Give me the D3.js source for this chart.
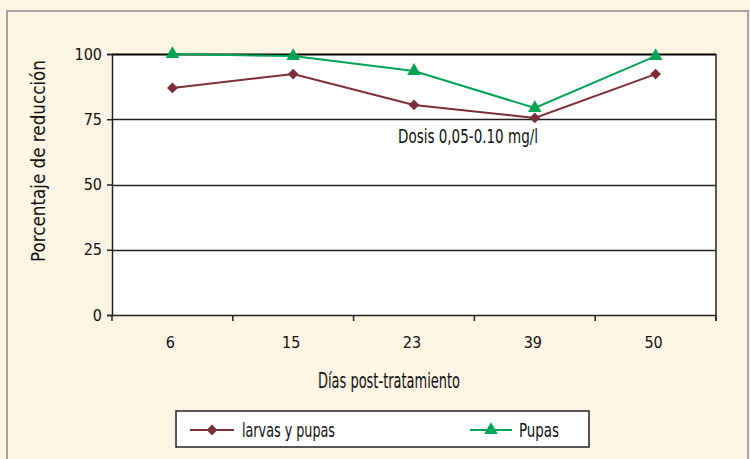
<!DOCTYPE html>
<html>
<head>
<meta charset="utf-8">
<script src="https://cdn.jsdelivr.net/npm/d3@7"></script>
<style>
  html, body { margin: 0; padding: 0; background: #fdf4e3; }
  svg { display: block; }
  text { font-family: "DejaVu Sans Condensed", "Liberation Sans Narrow", sans-serif; fill: #111; }
</style>
</head>
<body>
<svg id="chart" width="750" height="459"></svg>
<script>
// Days after treatment
const days = ["6", "15", "23", "39", "50"];
// Percentage reduction, larvae + pupae
const larvasYPupas = [87, 92.3, 80.5, 75.5, 92.3];
// Percentage reduction, pupae only
const pupas = [100, 99.2, 93.5, 79.3, 99.2];
const yTicks = [0, 25, 50, 75, 100];

const series = [
  { name: "larvas y pupas", values: larvasYPupas, color: "#7d2f37", symbol: d3.symbolSquare, size: 58, rotate: 45, textLen: 93 },
  { name: "Pupas", values: pupas, color: "#00a553", symbol: d3.symbolTriangle, size: 80, rotate: 0, textLen: 40 }
];

const svg = d3.select("#chart");
const W = 750, H = 459;
const plot = { left: 112, right: 716, top: 54, bottom: 315 };

// outer frame
svg.append("rect")
  .attr("x", 7).attr("y", 11).attr("width", W - 9).attr("height", H + 10)
  .attr("fill", "#fdf4e3").attr("stroke", "#a3a3a3").attr("stroke-width", 2);

const x = d3.scaleBand().domain(days).range([plot.left, plot.right]);
const y = d3.scaleLinear().domain([0, 100]).range([plot.bottom, plot.top]);

// plot background
svg.append("rect")
  .attr("x", plot.left).attr("y", plot.top)
  .attr("width", plot.right - plot.left).attr("height", plot.bottom - plot.top)
  .attr("fill", "#ffffff");

// horizontal gridlines
svg.append("g").selectAll("line").data(yTicks.filter(d => d > 0)).join("line")
  .attr("x1", plot.left).attr("x2", plot.right)
  .attr("y1", d => Math.round(y(d)) + 0.5).attr("y2", d => Math.round(y(d)) + 0.5)
  .attr("stroke", d => d === 100 ? "#000" : "#222").attr("stroke-width", d => d === 100 ? 2 : 1.5);

// right border
svg.append("line")
  .attr("x1", plot.right).attr("x2", plot.right)
  .attr("y1", plot.top).attr("y2", plot.bottom + 6)
  .attr("stroke", "#222").attr("stroke-width", 1.5);

// y axis
const yAxis = svg.append("g")
  .attr("transform", `translate(${plot.left},0)`)
  .call(d3.axisLeft(y).tickValues(yTicks).tickSize(5).tickPadding(5));
yAxis.select(".domain").attr("stroke", "#222").attr("stroke-width", 1.5);
yAxis.selectAll(".tick line").attr("stroke", "#222").attr("stroke-width", 1.5);
yAxis.selectAll(".tick text").attr("font-size", 16).style("font-family", null);

// x axis (ticks at category boundaries)
const xAxis = svg.append("g")
  .attr("transform", `translate(0,${plot.bottom})`)
  .call(d3.axisBottom(x).tickSize(0).tickPadding(22));
xAxis.select(".domain").attr("stroke", "#222").attr("stroke-width", 1.5);
xAxis.selectAll(".tick text").attr("font-size", 16).attr("dx", -2).style("font-family", null);
const bounds = days.map(d => x(d)).concat([plot.right]);
svg.append("g").selectAll("line").data(bounds).join("line")
  .attr("x1", d => d).attr("x2", d => d)
  .attr("y1", plot.bottom).attr("y2", plot.bottom + 6)
  .attr("stroke", "#222").attr("stroke-width", 1.5);

// axis titles
svg.append("text")
  .attr("transform", "translate(45,161) rotate(-90)")
  .attr("text-anchor", "middle").attr("font-size", 19)
  .attr("textLength", 202).attr("lengthAdjust", "spacingAndGlyphs")
  .text("Porcentaje de reducción");
svg.append("text")
  .attr("x", 389).attr("y", 388)
  .attr("text-anchor", "middle").attr("font-size", 21)
  .attr("textLength", 142).attr("lengthAdjust", "spacingAndGlyphs")
  .text("Días post-tratamiento");

// annotation
svg.append("text")
  .attr("x", 468).attr("y", 143)
  .attr("text-anchor", "middle").attr("font-size", 20)
  .attr("textLength", 140).attr("lengthAdjust", "spacingAndGlyphs")
  .text("Dosis 0,05-0.10 mg/l");

// series lines and markers
const line = d3.line().x((d, i) => x(days[i]) + x.bandwidth() / 2).y(d => y(d));
series.forEach(s => {
  svg.append("path").datum(s.values)
    .attr("d", line).attr("fill", "none")
    .attr("stroke", s.color).attr("stroke-width", 2);
  svg.append("g").selectAll("path").data(s.values).join("path")
    .attr("d", d3.symbol().type(s.symbol).size(s.size))
    .attr("transform", (d, i) => `translate(${x(days[i]) + x.bandwidth() / 2},${y(d)}) rotate(${s.rotate})`)
    .attr("fill", s.color);
});

// legend
const lg = svg.append("g");
lg.append("rect")
  .attr("x", 176).attr("y", 411).attr("width", 413).attr("height", 36)
  .attr("fill", "#fff").attr("stroke", "#222").attr("stroke-width", 1.5);
const legendPos = [{ x0: 190, x1: 234, tx: 242 }, { x0: 470, x1: 512, tx: 519 }];
series.forEach((s, i) => {
  const p = legendPos[i];
  lg.append("line")
    .attr("x1", p.x0).attr("x2", p.x1).attr("y1", 430).attr("y2", 430)
    .attr("stroke", s.color).attr("stroke-width", 2);
  lg.append("path")
    .attr("d", d3.symbol().type(s.symbol).size(s.size))
    .attr("transform", `translate(${(p.x0 + p.x1) / 2},430) rotate(${s.rotate})`)
    .attr("fill", s.color);
  lg.append("text")
    .attr("x", p.tx).attr("y", 437).attr("font-size", 20)
    .attr("textLength", s.textLen).attr("lengthAdjust", "spacingAndGlyphs")
    .text(s.name);
});
</script>
</body>
</html>
